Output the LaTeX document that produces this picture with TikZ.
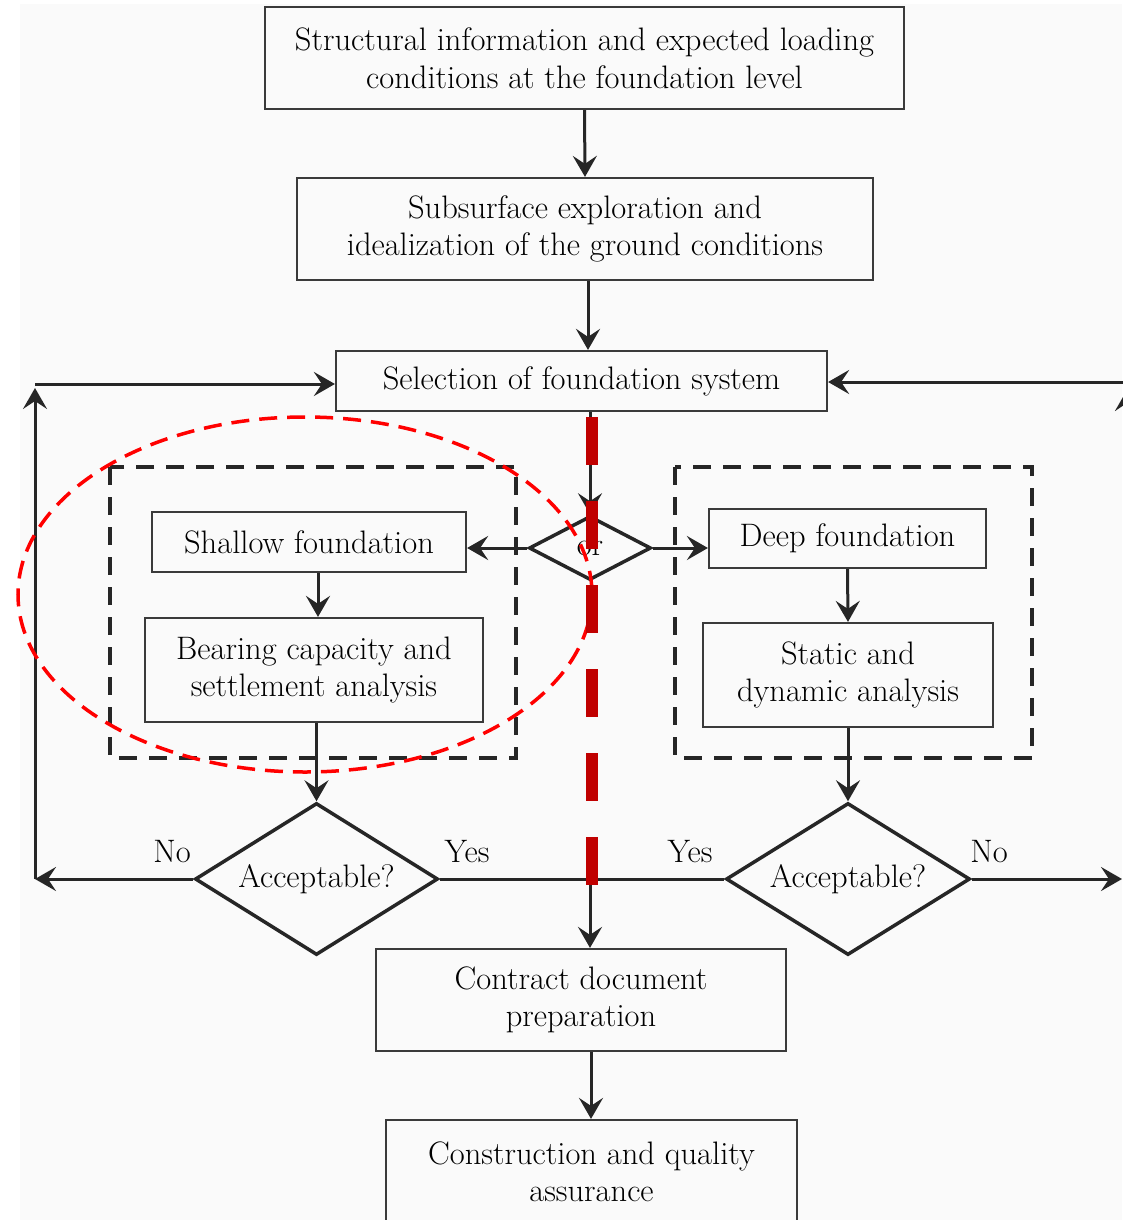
\documentclass[tikz,border=0pt]{standalone}
\usetikzlibrary{shapes.geometric,arrows.meta}
\definecolor{bg}{HTML}{FAFAFA}
\definecolor{boxline}{HTML}{3A3A3A}
\definecolor{darkred}{HTML}{C00000}
\begin{document}
\begin{tikzpicture}[x=1pt,y=-1pt,
  font=\fontsize{32.5}{37.5}\selectfont,
  box/.style={draw=boxline, line width=2.2pt, align=center, inner sep=0pt},
  dia/.style={diamond, draw=black!85, line width=3.5pt, inner sep=0pt, aspect=1.6},
  arr/.style={draw=black!85, line width=3pt, -{Stealth[length=21pt,width=24pt,inset=8pt]}},
  plain/.style={draw=black!85, line width=3pt},
  dframe/.style={draw=black!85, line width=4.5pt, dash pattern=on 18pt off 12pt},
  lbl/.style={inner sep=0pt}
]
\useasboundingbox (0,0) rectangle (1122,1220);
\fill[bg] (20,4) rectangle (1122,1220);

% dashed frames
\draw[dframe] (110,467) rectangle (516,758);
\draw[dframe] (675,467) rectangle (1032,758);

% boxes
\node[box, minimum width=639pt, minimum height=102pt] (b1) at (584.5,58) {Structural information and expected loading\\conditions at the foundation level};
\node[box, minimum width=576pt, minimum height=102pt] (b2) at (585,229) {Subsurface exploration and\\idealization of the ground conditions};
\node[box, minimum width=491pt, minimum height=60pt] (b3) at (581.5,381) {Selection of foundation system};
\node[box, minimum width=314pt, minimum height=60pt] (shallow) at (309,542) {Shallow foundation};
\node[box, minimum width=338pt, minimum height=104pt] (bearing) at (314,670) {Bearing capacity and\\settlement analysis};
\node[box, minimum width=277pt, minimum height=59pt] (deep) at (847.5,538.5) {Deep foundation};
\node[box, minimum width=290pt, minimum height=104pt] (static) at (848,675) {Static and\\dynamic analysis};
\node[box, minimum width=410pt, minimum height=102pt] (contract) at (581,1000) {Contract document\\preparation};
\node[box, minimum width=411pt, minimum height=104pt] (constr) at (591.5,1172) {Construction and quality\\assurance};

% diamonds
\node[dia, minimum width=122pt, minimum height=64pt, aspect=1.9] (or) at (590,548) {or};
\node[dia, minimum width=243pt, minimum height=152pt] (acc1) at (316.5,879) {Acceptable?};
\node[dia, minimum width=244pt, minimum height=152pt] (acc2) at (848,879) {Acceptable?};

% coordinates
\coordinate (j) at (590,879);
\coordinate (L1) at (35,879);
\coordinate (L2) at (35,388);
\coordinate (L3) at (35,384);
\coordinate (R1) at (1122,879);
\coordinate (R2a) at (1127,879);
\coordinate (R2) at (1127,390);
\coordinate (R3) at (1124,382);

% connectors
\draw[arr] (b1.south) -- (b2.north);
\draw[arr] (b2.south -| 588,0) -- (b3.north -| 588,0);
\draw[arr] (b3.south -| or.north) -- (or.north);
\draw[arr] (or.west) -- (or.west -| shallow.east);
\draw[arr] (or.east) -- (or.east -| deep.west);
\draw[arr] (shallow.south -| 318,0) -- (bearing.north -| 318,0);
\draw[arr] (bearing.south -| acc1.north) -- (acc1.north);
\draw[arr] (deep.south) -- (static.north);
\draw[arr] (static.south) -- (acc2.north);
\draw[plain] (acc1.east) -- (acc2.west);
\draw[arr] (j) -- (contract.north -| j);
\draw[arr] (contract.south -| 591,0) -- (constr.north -| 591,0);
\draw[arr] (acc1.west) -- (L1);
\draw[arr] (L1) -- (L2);
\draw[arr] (L3) -- (b3.west |- L3);
\draw[arr] (acc2.east) -- (R1);
\draw[arr] (R2a) -- (R2);
\draw[arr] (R3) -- (b3.east |- R3);

% labels
\node[lbl] (no1) at (172,852) {No};
\node[lbl] (yes1) at (467,852) {Yes};
\node[lbl] (yes2) at (690,852) {Yes};
\node[lbl] (no2) at (989,852) {No};

% red annotations
\draw[red, line width=3.5pt, dash pattern=on 18pt off 10pt] (305,594.5) ellipse [x radius=287, y radius=177.5];
\draw[darkred, line width=12pt, dash pattern=on 48pt off 36pt] (592,417) -- (592,886);
\end{tikzpicture}
\end{document}
